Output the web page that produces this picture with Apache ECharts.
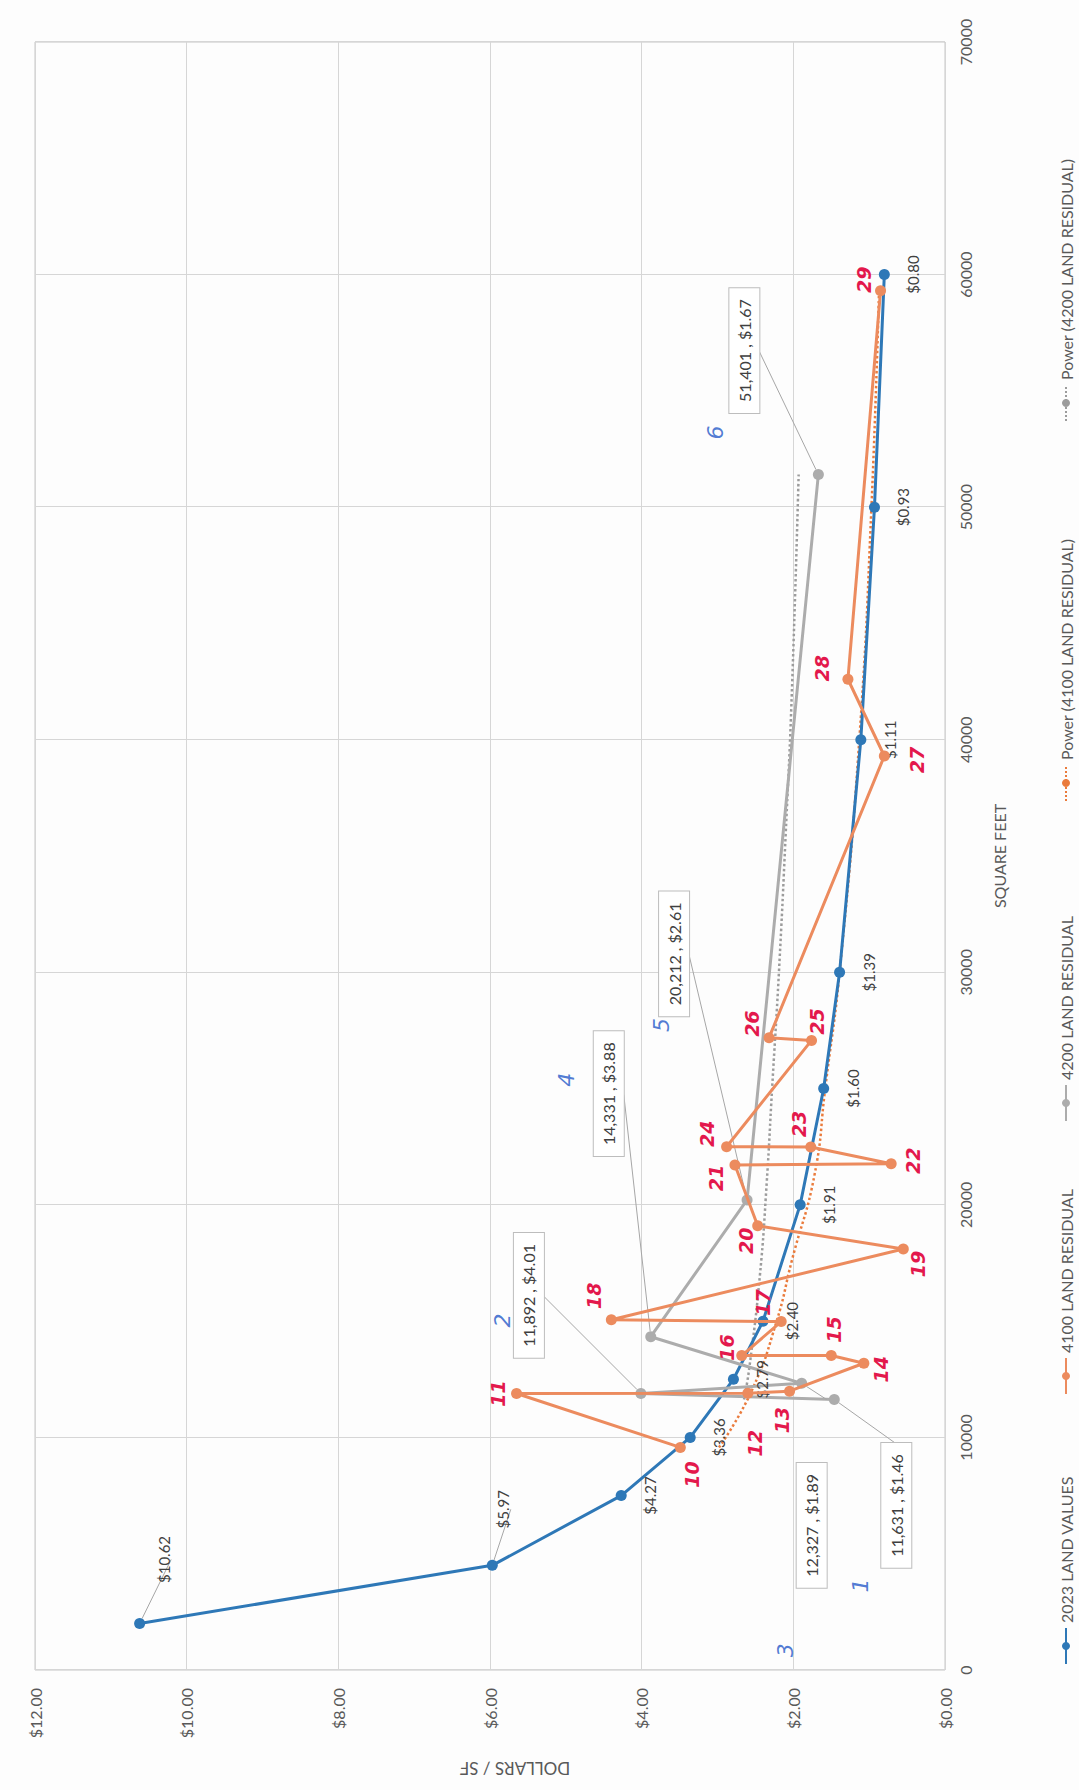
<!DOCTYPE html>
<html>
<head>
<meta charset="utf-8">
<title>Land values by square feet</title>
<script src="https://cdn.jsdelivr.net/npm/echarts@6/dist/echarts.min.js"></script>
<style>
    html, body { margin: 0; padding: 0; background: #fdfdfd; overflow: hidden; }
    #page { position: relative; width: 1079px; height: 1790px; overflow: hidden; }
    /* the scanned chart is turned a quarter turn, so draw it landscape and rotate it */
    #chart { position: absolute; left: 0; top: 0; width: 1790px; height: 1079px;
             transform-origin: 0 0; transform: translateY(1790px) rotate(-90deg); }
</style>
</head>
<body>
<div id="page"><div id="chart"></div></div>
<script>
// axis ticks
var sqftTicks = [0, 10000, 20000, 30000, 40000, 50000, 60000, 70000];
var dollarTicks = [0, 2, 4, 6, 8, 10, 12];

// 2023 LAND VALUES
var blueSqft = [2000, 4500, 7500, 10000, 12500, 15000, 20000, 25000, 30000, 40000, 50000, 60000];
var blueValues = [10.62, 5.97, 4.27, 3.36, 2.79, 2.40, 1.91, 1.60, 1.39, 1.11, 0.93, 0.80];

// 4100 LAND RESIDUAL (numbers written by hand next to each point)
var orangeIds = [10, 11, 12, 13, 14, 15, 16, 17, 18, 19, 20, 21, 22, 23, 24, 25, 26, 27, 28, 29];
var orangeSqft = [9570, 11890, 11900, 11990, 13190, 13520, 13520, 14980, 15060, 18100,
                  19100, 21710, 21770, 22490, 22500, 27070, 27190, 39300, 42600, 59300];
var orangeValues = [3.49, 5.65, 2.60, 2.05, 1.07, 1.50, 2.68, 2.16, 4.40, 0.55,
                    2.47, 2.77, 0.71, 1.77, 2.88, 1.76, 2.32, 0.80, 1.28, 0.85];

// 4200 LAND RESIDUAL
var grayIds = [1, 2, 3, 4, 5, 6];
var graySqft = [11631, 11892, 12327, 14331, 20212, 51401];
var grayValues = [1.46, 4.01, 1.89, 3.88, 2.61, 1.67];

// power trend lines
var trend4100Sqft = [9570, 12000, 15000, 17600, 21300, 25000, 30000, 40000, 50000, 59300];
var trend4100Values = [2.98, 2.55, 2.22, 2.02, 1.72, 1.58, 1.39, 1.13, 0.97, 0.87];
var trend4200Sqft = [11631, 13000, 17000, 21000, 25000, 30000, 36000, 42000, 51401];
var trend4200Values = [2.65, 2.58, 2.44, 2.35, 2.28, 2.19, 2.10, 2.02, 1.93];

// label placement (offsets in px)
var blueLabelOffsets = [[64, 24], [56, 11]];
var grayBoxOffsets = [[-106, 62], [98, -112], [-142, 10], [243, -42], [246, -73], [124, -74]];
var grayIdOffsets = [[-186, 26], [73, -138], [-267, -16], [257, -84], [175, -86], [42, -103]];
var orangeIdOffsets = [[-27, 12], [0, -19], [-50, 7], [-29, -8], [-6, 17], [26, 3], [8, -15], [19, -18],
                       [24, -17], [-15, 15], [-15, -12], [-13, -19], [3, 22], [23, -12], [13, -20],
                       [19, 5], [14, -17], [-4, 33], [11, -26], [11, -17]];

var font = 'Lato, "Open Sans", "DejaVu Sans", sans-serif';
var blue = '#2e78b7', orange = '#ec8b5e', gray = '#acacac';

function pairs(xs, ys) {
    return xs.map(function (x, i) { return [x, ys[i]]; });
}
function money(v) { return '$' + v.toFixed(2); }

var blueData = blueSqft.map(function (s, i) {
    var item = { value: [s, blueValues[i]] };
    if (blueLabelOffsets[i]) {
        item.label = { position: 'inside', offset: blueLabelOffsets[i] };
        item.labelLine = { show: true };
    }
    return item;
});
var orangeData = orangeSqft.map(function (s, i) {
    return { value: [s, orangeValues[i]], label: { offset: orangeIdOffsets[i] } };
});
var grayData = graySqft.map(function (s, i) {
    return { value: [s, grayValues[i]], label: { offset: grayBoxOffsets[i] } };
});
var grayIdData = graySqft.map(function (s, i) {
    return { value: [s, grayValues[i]], label: { offset: grayIdOffsets[i] } };
});

var chart = echarts.init(document.getElementById('chart'), null, { renderer: 'svg' });

var legendBase = {
    top: 1053, itemWidth: 36, itemHeight: 10, itemGap: 10,
    textStyle: { fontFamily: font, fontSize: 16, color: '#595959' }
};
function legendAt(name, left) {
    return Object.assign({ data: [name], left: left }, legendBase);
}

var option = {
    animation: false,
    backgroundColor: '#fdfdfd',
    textStyle: { fontFamily: font },
    grid: {
        left: 120, right: 42, top: 35, bottom: 134,
        show: true, borderColor: '#c6c6c6', borderWidth: 1,
        outerBoundsMode: 'none'
    },
    legend: [
        legendAt('2023 LAND VALUES', 120),
        legendAt('4100 LAND RESIDUAL', 390),
        legendAt('4200 LAND RESIDUAL', 663),
        legendAt('Power (4100 LAND RESIDUAL)', 983),
        legendAt('Power (4200 LAND RESIDUAL)', 1363)
    ],
    xAxis: {
        type: 'value',
        min: sqftTicks[0], max: sqftTicks[sqftTicks.length - 1],
        interval: sqftTicks[1] - sqftTicks[0],
        name: 'SQUARE FEET', nameLocation: 'middle', nameGap: 46,
        nameTextStyle: { fontSize: 16, color: '#595959', fontFamily: font },
        axisLine: { show: false }, axisTick: { show: false },
        axisLabel: { margin: 12, fontSize: 16, color: '#595959', fontFamily: font,
                     formatter: function (v) { return String(v); } },
        splitLine: { lineStyle: { color: '#d6d6d6' } }
    },
    yAxis: {
        type: 'value',
        min: dollarTicks[0], max: dollarTicks[dollarTicks.length - 1],
        interval: dollarTicks[1] - dollarTicks[0],
        name: 'DOLLARS / SF', nameLocation: 'middle', nameGap: 90,
        nameTextStyle: { fontSize: 17, color: '#595959', fontFamily: font, padding: [0, 50, 0, 0] },
        axisLine: { show: false }, axisTick: { show: false },
        axisLabel: { margin: 18, fontSize: 16, color: '#595959', fontFamily: font, formatter: money },
        splitLine: { lineStyle: { color: '#d6d6d6' } }
    },
    series: [
        {
            name: '2023 LAND VALUES', type: 'line', data: blueData,
            symbol: 'circle', symbolSize: 11,
            lineStyle: { color: blue, width: 3 }, itemStyle: { color: blue },
            label: {
                show: true, position: 'bottom', distance: 16,
                fontSize: 15, color: '#404040', fontFamily: font,
                formatter: function (p) { return money(p.value[1]); }
            },
            labelLine: { show: false, lineStyle: { color: '#a6a6a6', width: 1 } },
            z: 3
        },
        {
            name: '4100 LAND RESIDUAL', type: 'line', data: orangeData,
            symbol: 'circle', symbolSize: 11,
            lineStyle: { color: orange, width: 3 }, itemStyle: { color: orange },
            label: {
                show: true, position: 'inside',
                fontSize: 19, fontWeight: 'bold', fontStyle: 'italic',
                fontFamily: '"DejaVu Sans", sans-serif', color: '#e3184c',
                formatter: function (p) { return orangeIds[p.dataIndex]; }
            },
            z: 4
        },
        {
            name: '4200 LAND RESIDUAL', type: 'line', data: grayData,
            symbol: 'circle', symbolSize: 11,
            lineStyle: { color: gray, width: 3 }, itemStyle: { color: gray },
            label: {
                show: true, position: 'inside',
                fontSize: 16, color: '#404040', fontFamily: font,
                backgroundColor: '#ffffff', borderColor: '#bdbdbd', borderWidth: 1,
                padding: [7, 11],
                formatter: function (p) {
                    return p.value[0].toLocaleString('en-US') + ' , ' + money(p.value[1]);
                }
            },
            labelLine: { show: true, lineStyle: { color: '#a6a6a6', width: 1 } },
            z: 3
        },
        {
            name: 'Power (4100 LAND RESIDUAL)', type: 'line', smooth: true,
            data: pairs(trend4100Sqft, trend4100Values), symbol: 'none',
            lineStyle: { color: '#ea7b3c', width: 2.5, type: 'dotted' },
            itemStyle: { color: '#ea7b3c' },
            z: 2
        },
        {
            name: 'Power (4200 LAND RESIDUAL)', type: 'line', smooth: true,
            data: pairs(trend4200Sqft, trend4200Values), symbol: 'none',
            lineStyle: { color: '#9c9c9c', width: 2.5, type: 'dotted' },
            itemStyle: { color: '#9c9c9c' },
            z: 2
        },
        {
            // hand-written parcel numbers for the 4200 points
            name: 'ids', type: 'scatter', data: grayIdData,
            symbolSize: 0, silent: true,
            label: {
                show: true, position: 'inside',
                fontSize: 22, fontStyle: 'italic', fontFamily: '"DejaVu Sans", sans-serif',
                color: '#2459c8',
                formatter: function (p) { return grayIds[p.dataIndex]; }
            },
            z: 5
        }
    ]
};

chart.setOption(option);
</script>
</body>
</html>
